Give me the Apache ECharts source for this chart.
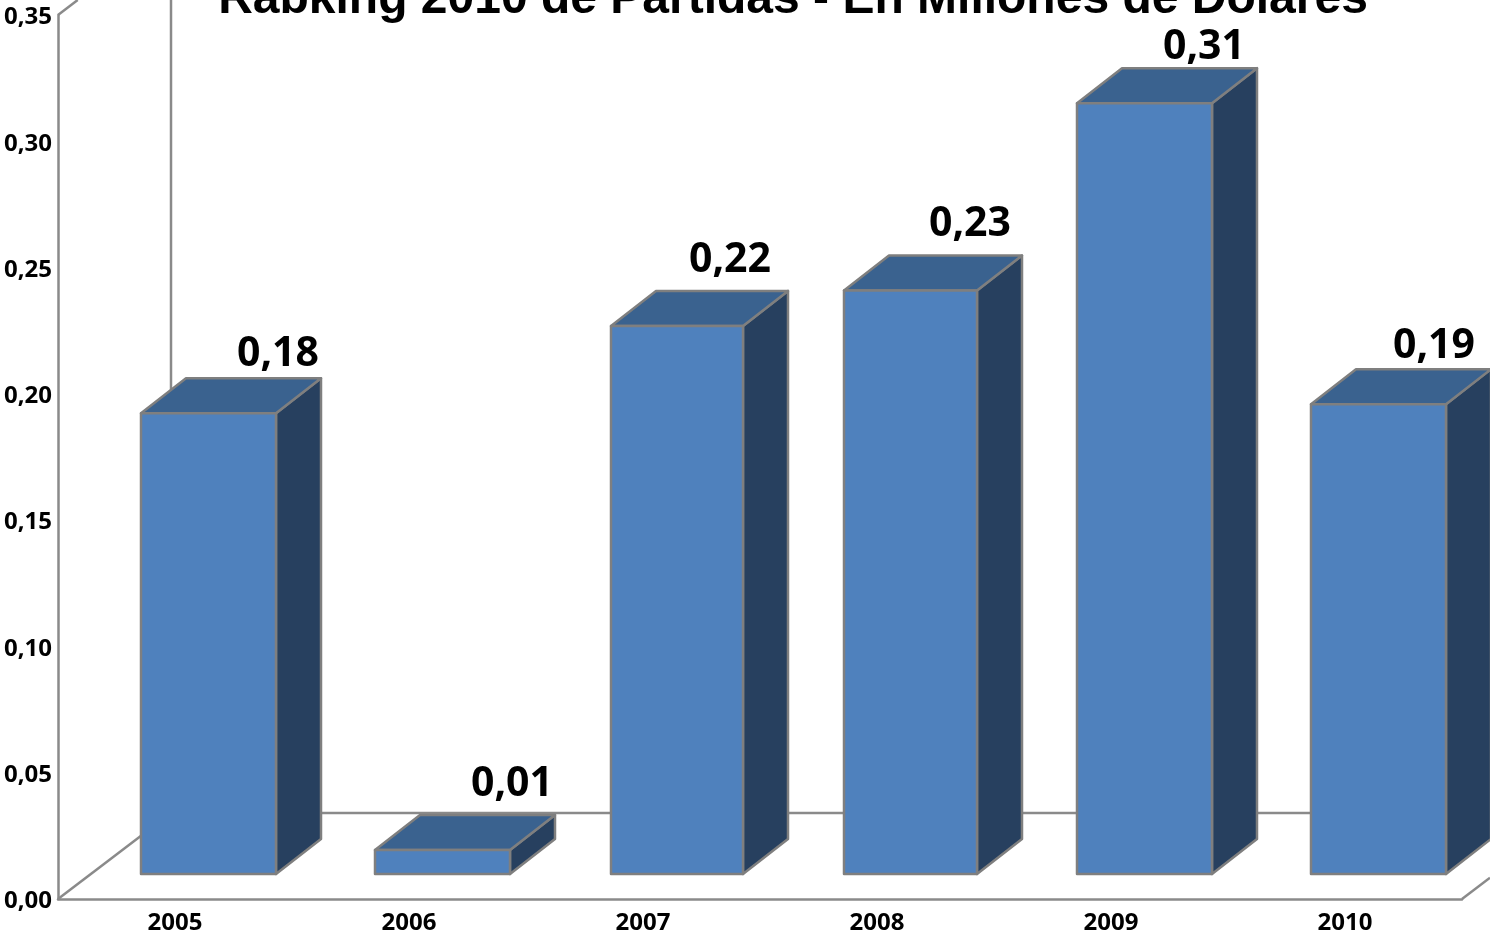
<!DOCTYPE html>
<html>
<head>
<meta charset="utf-8">
<style>html,body{margin:0;padding:0;background:#fff;overflow:hidden}#c{width:1490px;height:934px}</style>
<script src="https://cdn.jsdelivr.net/npm/echarts@6/dist/echarts.min.js"></script>
</head>
<body>
<div id="c"></div>
<script>
const titleText = 'Rabking 2010 de Partidas - En Millones de Dolares';
const years = ['2005','2006','2007','2008','2009','2010'];
const values = [0.1824, 0.0095, 0.217, 0.231, 0.3052, 0.186];
const yMax = 0.35, yStep = 0.05;

const labelShift = [[103,-44],[103,-51],[87,-51],[93,-52],[93,-41],[89,-43]];
const edgeShift = [[0,0],[0,0],[2,-1],[1,-1],[0,0],[0,0]];
const fmt = v => v.toFixed(2).replace('.', ',');
const GREY = '#7f7f7f', AXIS = '#8a8a8a';
const FONT = '"Open Sans", "Noto Sans", sans-serif';

function poly(points, fill) {
  return {type:'polygon', shape:{points}, style:{fill, stroke:GREY, lineWidth:2.5, lineJoin:'round'}};
}
function line(x1,y1,x2,y2) {
  return {type:'line', shape:{x1,y1,x2,y2}, style:{stroke:AXIS, lineWidth:2.5, fill:null}};
}
function renderFrame(params) {
  const g = params.coordSys, x0 = g.x, yb = g.y + g.height, yt = g.y, xr = g.x + g.width;
  const dx = 113, dy = 86, k = dy / dx;
  const backY = yb - dy, backX = x0 + dx;
  return {type:'group', children:[
    line(x0, yb, backX, backY),
    line(backX, backY, 1490, backY),
    line(backX, backY, backX, 0),
    line(x0, yt, x0 + yt / k, 0),
    line(xr, yb, xr + (1490 - xr), yb - (1490 - xr) * k)
  ]};
}
function renderBar(params, api) {
  const i = api.value(0), v = api.value(1);
  const base = api.coord([i, 0]), top = api.coord([i, v]);
  const left = base[0] - 34 + edgeShift[i][0], right = base[0] + 101 + edgeShift[i][1];
  const lift = 25, ddx = 45, ddy = 35;
  const yB = base[1] - lift, yT = top[1] - lift;
  const shift = labelShift[i];
  return {type:'group', children:[
    poly([[right,yT],[right+ddx,yT-ddy],[right+ddx,yB-ddy],[right,yB]], '#27405f'),
    poly([[left,yT],[left+ddx,yT-ddy],[right+ddx,yT-ddy],[right,yT]], '#3a628f'),
    poly([[left,yT],[right,yT],[right,yB],[left,yB]], '#4f81bd'),
    {type:'text', style:{
      x: base[0] + shift[0], y: yT - ddy + shift[1],
      text: fmt(v), fill:'#000', textAlign:'center', textBaseline:'alphabetic',
      font: 'bold 41px ' + FONT
    }}
  ]};
}
const chart = echarts.init(document.getElementById('c'), null, {renderer:'canvas'});
chart.setOption({
  animation:false,
  backgroundColor:'#fff',
  title:{text:titleText, left:788, textAlign:'center', top:-29,
    textStyle:{fontFamily:'"Liberation Sans", Arial, sans-serif', fontWeight:'bold', fontSize:48, color:'#000'}},
  grid:{left:58, top:15, width:1404, height:884, containLabel:false, outerBoundsMode:'none'},
  xAxis:{type:'category', data:years,
    axisLine:{lineStyle:{color:AXIS, width:2.5}}, axisTick:{show:false},
    axisLabel:{color:'#000', fontWeight:'bold', fontFamily:FONT, fontSize:24, margin:12}},
  yAxis:{type:'value', min:0, max:yMax, interval:yStep, splitLine:{show:false},
    axisLine:{show:true, lineStyle:{color:AXIS, width:2.5}}, axisTick:{show:false},
    axisLabel:{color:'#000', fontWeight:'bold', fontFamily:FONT, fontSize:24, margin:6,
      verticalAlign:'top', lineHeight:5, formatter:v=>fmt(v)}},
  series:[
    {type:'custom', renderItem:renderFrame, data:[[0,0]], silent:true, z:1, clip:false},
    {type:'custom', renderItem:renderBar, encode:{x:0,y:1}, z:2, clip:false,
      data:values.map((v,i)=>[i,v])}
  ]
});
</script>
</body>
</html>
